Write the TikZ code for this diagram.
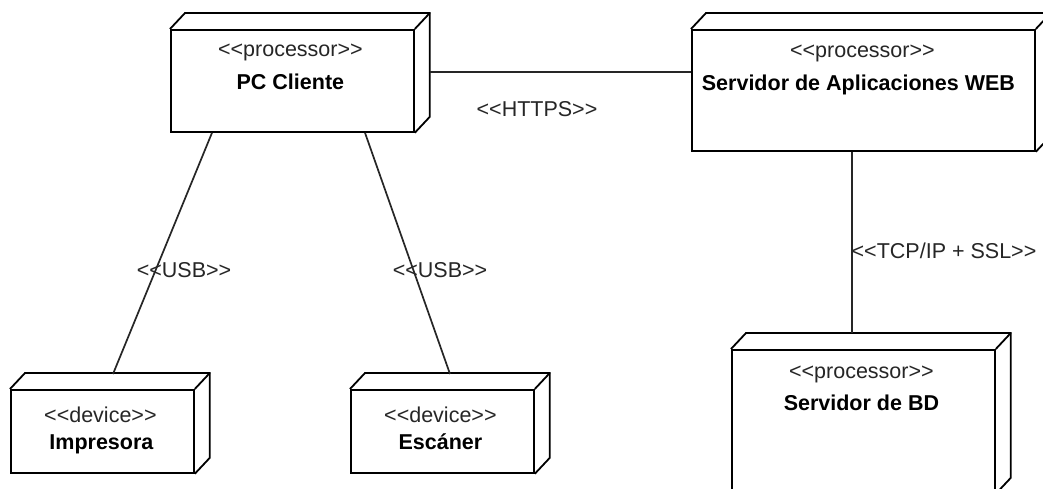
\documentclass[tikz,border=0pt]{standalone}
\usepackage{fontspec}
\setmainfont{Liberation Sans}
\usetikzlibrary{calc}

\tikzset{
  face/.style={draw, fill=white, line width=1.8pt, rectangle, inner sep=0pt,
               minimum width=#1},
  stereo/.style={anchor=base, inner sep=0pt, text=black!85,
                 font=\fontsize{21.5}{24}\selectfont},
  title/.style={anchor=base, inner sep=0pt,
                font=\fontsize{21.5}{24}\selectfont\bfseries},
  link/.style={line width=1.7pt, draw=black!85},
  linklabel/.style={anchor=base, inner sep=0pt, text=black!85,
                    font=\fontsize{21.5}{24}\selectfont},
  depth/.style={line width=1.8pt, line join=miter}
}

% guillemet-free stereotype brackets
\newcommand{\stl}{<{}<}
\newcommand{\str}{>{}>}

% 3-D node: front face is the node, the top and side faces are drawn behind it
\newcommand{\nodebox}[5]{% name, x0, y0, x1, y1
  \node[face=#4pt-#2pt, minimum height=#5pt-#3pt, anchor=north west] (#1) at (#2,#3) {};
  \draw[depth] (#1.north west) -- ++(15,-16) -- ($(#1.north east)+(15,-16)$)
     -- ($(#1.south east)+(15,-16)$) -- (#1.south east);
  \draw[depth] (#1.north east) -- ++(15,-16);
}

\begin{document}
\begin{tikzpicture}[x=1pt, y=-1pt]
\useasboundingbox (0,0) rectangle (1043,489);
\clip (0,0) rectangle (1043,489);
\fill[white] (0,0) rectangle (1043,489);

% nodes
\nodebox{pc}{170}{29}{413}{131}
\nodebox{web}{691}{29}{1034}{150}
\nodebox{bd}{731}{349}{994}{492}
\nodebox{imp}{10}{389}{193}{472}
\nodebox{esc}{350}{389}{533}{472}

% node texts
\node[stereo] (pcst) at ($(pc.north)+(-2,28)$) {\stl processor\str};
\node[title] (pcname) at ($(pc.north)+(-2,61)$) {PC Cliente};
\node[stereo] (webst) at ($(web.north)+(-1,29)$) {\stl processor\str};
\node[title] (webname) at ($(web.north)+(-5,62)$) {Servidor de Aplicaciones WEB};
\node[stereo] (bdst) at ($(bd.north)+(-2,29)$) {\stl processor\str};
\node[title] (bdname) at ($(bd.north)+(-2,61)$) {Servidor de BD};
\node[stereo] (impst) at ($(imp.north)+(-2,33)$) {\stl device\str};
\node[title] (impname) at ($(imp.north)+(-1,60)$) {Impresora};
\node[stereo] (escst) at ($(esc.north)+(-2,33)$) {\stl device\str};
\node[title] (escname) at ($(esc.north)+(-2,60)$) {Escáner};

% connectors
\draw[link] ($(pc.north east)+(15,43)$) -- ($(web.north west)+(0,43)$);
\draw[link] ($(pc.south west)+(42,0)$) -- ($(imp.north west)+(103,-15)$);
\draw[link] ($(pc.south west)+(195,0)$) -- ($(esc.north west)+(100,-15)$);
\draw[link] ($(web.south west)+(161,0)$) -- ($(bd.north west)+(121,-16)$);

% connector labels
\node[linklabel] (lhttps) at (537,117) {\stl HTTPS\str};
\node[linklabel] (lusb1) at (184,277) {\stl USB\str};
\node[linklabel] (lusb2) at (440,277) {\stl USB\str};
\node[linklabel] (ltcp) at (944,258) {\stl TCP/IP + SSL\str};
\end{tikzpicture}
\end{document}
